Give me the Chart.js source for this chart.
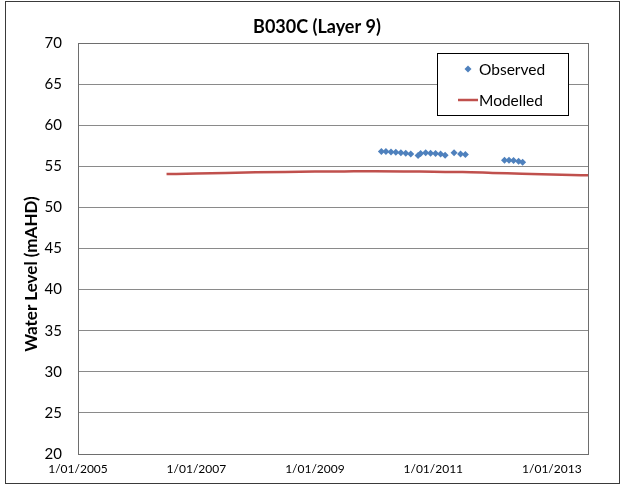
<!DOCTYPE html>
<html>
<head>
<meta charset="utf-8">
<script src="https://cdn.jsdelivr.net/npm/chart.js@4/dist/chart.umd.min.js"></script>
<style>
  html, body { margin: 0; padding: 0; background: #fff; }
  #wrap { width: 625px; height: 485px; position: relative; }
</style>
</head>
<body>
<div id="wrap"><canvas id="c" width="625" height="485"></canvas></div>
<script>
// ---- data ----
const chartTitle = 'B030C (Layer 9)';
const yAxisTitle = 'Water Level (mAHD)';
const seriesNames = ['Observed', 'Modelled'];

const observedDates = [
  '2010-02-15','2010-03-15','2010-04-15','2010-05-15','2010-06-15','2010-07-15',
  '2010-08-15','2010-09-29','2010-10-15','2010-11-15','2010-12-15','2011-01-15',
  '2011-02-15','2011-03-15','2011-05-09','2011-06-18','2011-07-18',
  '2012-03-15','2012-04-12','2012-05-10','2012-06-10','2012-07-05'
];
const observedLevels = [
  56.8, 56.8, 56.75, 56.7, 56.65, 56.6,
  56.5, 56.3, 56.55, 56.65, 56.6, 56.55,
  56.5, 56.35, 56.66, 56.5, 56.45,
  55.75, 55.75, 55.7, 55.6, 55.5
];

const modelledDates = [
  '2006-07-01','2007-01-01','2007-07-01','2008-01-01','2008-07-01','2009-01-01',
  '2009-07-01','2010-01-01','2010-07-01','2011-01-01','2011-07-01','2012-01-01',
  '2012-07-01','2013-01-01','2013-07-01','2013-10-01'
];
const modelledLevels = [
  54.05, 54.12, 54.2, 54.27, 54.32, 54.36,
  54.38, 54.4, 54.38, 54.33, 54.3, 54.2,
  54.1, 54.0, 53.92, 53.88
];

const xTickDates = ['2005-01-01','2007-01-01','2009-01-01','2011-01-01','2013-01-01'];
const xMinDate = '2005-01-01';
const xMaxDate = '2013-08-12';
const yMin = 20, yMax = 70, yStep = 5;

// ---- helpers ----
const toMs = s => Date.parse(s + 'T00:00:00Z');
const fmtDate = v => {
  const d = new Date(v);
  const m = String(d.getUTCMonth() + 1).padStart(2, '0');
  return d.getUTCDate() + '/' + m + '/' + d.getUTCFullYear();
};

const FONT = 'Lato, "Open Sans", sans-serif';
const obsColor = '#4F81BD';
const modColor = '#C0504D';

const decorPlugin = {
  id: 'decor',
  beforeDatasetsDraw(chart) {
    const { ctx, chartArea: a } = chart;
    ctx.save();
    ctx.strokeStyle = '#6e6e6e';
    ctx.lineWidth = 1;
    ctx.strokeRect(Math.round(a.left) + 0.5, Math.round(a.top) + 0.5,
                   Math.round(a.right - a.left), Math.round(a.bottom - a.top));
    ctx.restore();
  },
  afterDraw(chart) {
    const { ctx, chartArea: a } = chart;
    ctx.save();
    // outer border
    ctx.strokeStyle = '#3a3a3a';
    ctx.lineWidth = 1;
    ctx.strokeRect(5.5, 1.5, 614, 482);
    // title
    ctx.fillStyle = '#000';
    ctx.font = 'bold 18px ' + FONT;
    ctx.textAlign = 'center';
    ctx.textBaseline = 'middle';
    ctx.fillText(chartTitle, 317, 27);
    // y-axis title
    ctx.save();
    ctx.translate(32, 274);
    ctx.rotate(-Math.PI / 2);
    ctx.font = 'bold 17px ' + FONT;
    ctx.fillText(yAxisTitle, 0, 0);
    ctx.restore();
    // legend
    const lx = a.right - 151, ly = a.top + 10, lw = 131, lh = 62;
    ctx.fillStyle = '#fff';
    ctx.fillRect(lx, ly, lw, lh);
    ctx.strokeStyle = '#000';
    ctx.strokeRect(lx + 0.5, ly + 0.5, lw, lh);
    const ds = chart.data.datasets;
    ctx.font = '15.5px ' + FONT;
    ctx.textAlign = 'left';
    ctx.fillStyle = '#000';
    // observed
    const y1 = ly + 16, y2 = ly + 47;
    ctx.fillStyle = ds[0].backgroundColor;
    ctx.beginPath();
    ctx.moveTo(lx + 31, y1 - 3.5);
    ctx.lineTo(lx + 34.5, y1);
    ctx.lineTo(lx + 31, y1 + 3.5);
    ctx.lineTo(lx + 27.5, y1);
    ctx.closePath();
    ctx.fill();
    ctx.fillStyle = '#000';
    ctx.fillText(ds[0].label, lx + 42, y1 + 1);
    // modelled
    ctx.strokeStyle = ds[1].borderColor;
    ctx.lineWidth = 2.5;
    ctx.beginPath();
    ctx.moveTo(lx + 21, y2);
    ctx.lineTo(lx + 41, y2);
    ctx.stroke();
    ctx.fillText(ds[1].label, lx + 42, y2 + 1);
    ctx.restore();
  }
};

new Chart(document.getElementById('c'), {
  type: 'scatter',
  data: {
    datasets: [
      {
        label: seriesNames[0],
        data: observedDates.map((d, i) => ({ x: toMs(d), y: observedLevels[i] })),
        backgroundColor: obsColor,
        borderColor: obsColor,
        pointStyle: 'rectRot',
        pointRadius: 3.5,
        pointBorderWidth: 0,
        showLine: false,
        order: 1
      },
      {
        label: seriesNames[1],
        data: modelledDates.map((d, i) => ({ x: toMs(d), y: modelledLevels[i] })),
        borderColor: modColor,
        backgroundColor: modColor,
        borderWidth: 2.5,
        pointRadius: 0,
        showLine: true,
        cubicInterpolationMode: 'monotone',
        order: 2
      }
    ]
  },
  options: {
    responsive: false,
    animation: false,
    layout: { padding: { top: 43, right: 37, bottom: 0, left: 0 } },
    plugins: {
      legend: { display: false },
      title: { display: false },
      tooltip: { enabled: false }
    },
    scales: {
      x: {
        type: 'linear',
        min: toMs(xMinDate),
        max: toMs(xMaxDate),
        afterBuildTicks: s => { s.ticks = xTickDates.map(d => ({ value: toMs(d) })); },
        afterFit: s => { s.height = 31; },
        grid: { display: false, drawTicks: false },
        border: { display: true, color: '#6e6e6e' },
        ticks: {
          autoSkip: false, maxRotation: 0, padding: 8,
          color: '#000', font: { family: FONT, size: 12 },
          callback: v => fmtDate(v)
        }
      },
      y: {
        min: yMin, max: yMax,
        afterFit: s => { s.width = 78; },
        grid: { color: '#8a8a8a', drawTicks: false, lineWidth: 1 },
        border: { display: true, color: '#6e6e6e' },
        ticks: {
          stepSize: yStep, padding: 16,
          color: '#000', font: { family: FONT, size: 15 }
        }
      }
    }
  },
  plugins: [decorPlugin]
});
</script>
</body>
</html>
